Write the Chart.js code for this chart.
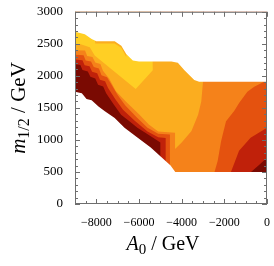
<!DOCTYPE html>
<html>
<head>
<meta charset="utf-8">
<script src="https://cdn.jsdelivr.net/npm/chart.js@4/dist/chart.umd.min.js"></script>
<style>
  html, body { margin: 0; padding: 0; background: #fff; }
</style>
</head>
<body>
<canvas id="chart" width="274" height="266"></canvas>
<script>
// tick labels
const xTicks = [-8000, -6000, -4000, -2000, 0];
const yTicks = [0, 500, 1000, 1500, 2000, 2500, 3000];

// edges of the region that was computed (A0, m1/2)
const topEdge = [[-9000,2688],[-8540,2651],[-8220,2574],[-8000,2540],[-7140,2540],[-6830,2472],[-6600,2343],[-6290,2240],[-6000,2226],[-4480,2226],[-4180,2205],[-3870,2088],[-3410,1934],[-3180,1908],[0,1910]];
const lowEdge = [[-9000,1754],[-8680,1728],[-8460,1640],[-8220,1620],[-7900,1520],[-7600,1446],[-7140,1343],[-6680,1189],[-6060,1035],[-5450,882],[-4520,600],[-4300,500],[0,500]];

// contour levels, darkest first; each polygon is the area at or above that level
const levelColors = ["#7a0a02", "#c0210a", "#e4520f", "#f5821a", "#fbad1f", "#ffcf24"];
const level0 = [[-9000,0],[0,0],[0,3000],[-9000,3000]];
const level1 = [[-9000,3000],[0,3000],[0,720],[-400,600],[-750,500],[-750,0],[-5000,0],[-5000,960],[-5465,1060],[-6075,1189],[-6450,1290],[-6840,1395],[-7200,1560],[-7540,1730],[-7680,1835],[-7920,1860],[-8050,1960],[-8280,1985],[-8400,2070],[-8650,2090],[-8750,2170],[-9000,2180]];
const level2 = [[-9000,3000],[0,3000],[0,1190],[-770,1035],[-1310,830],[-1690,500],[-1690,0],[-4750,0],[-4750,1030],[-5100,1040],[-5600,1130],[-6200,1300],[-6750,1470],[-7100,1630],[-7450,1810],[-7590,1915],[-7830,1940],[-7960,2040],[-8200,2065],[-8320,2150],[-8550,2165],[-8650,2245],[-9000,2255]];
const level3 = [[-9000,3000],[0,3000],[0,1930],[-600,1830],[-920,1754],[-1300,1580],[-1540,1450],[-1920,1292],[-2150,985],[-2310,677],[-2460,500],[-2460,0],[-4550,0],[-4550,1085],[-5100,1095],[-5600,1190],[-6100,1350],[-6650,1540],[-7000,1700],[-7300,1870],[-7500,1980],[-7760,2010],[-7880,2115],[-8120,2140],[-8250,2225],[-8500,2240],[-8600,2320],[-9000,2330]];
const level4 = [[-9000,2400],[-8530,2395],[-8430,2310],[-8180,2295],[-8050,2210],[-7810,2185],[-7690,2080],[-7400,1960],[-7080,1760],[-6620,1600],[-6000,1400],[-5540,1241],[-5100,1130],[-4310,1112],[-4310,857],[-4000,958],[-3540,1138],[-3230,1395],[-3080,1600],[-3000,1910],[-3000,3000],[-9000,3000]];
const level5 = [[-9000,3000],[-8100,3000],[-8050,2505],[-7140,2505],[-6830,2440],[-6600,2300],[-6450,3000],[-5400,3000],[-5354,2088],[-6154,1795],[-8077,2318],[-8308,2446],[-8769,2497],[-9000,2497]];
const levels = [level0, level1, level2, level3, level4, level5];

const toPts = arr => arr.map(p => ({ x: p[0], y: p[1] }));

const datasets = levels.map((poly, i) => ({
  data: toPts(poly),
  backgroundColor: levelColors[i],
  order: 100 - i
}));
// white out what lies outside the computed region
datasets.push({ data: toPts(topEdge.concat([[0,3000],[-9000,3000]])), backgroundColor: "#fff", order: 2 });
datasets.push({ data: toPts(lowEdge.concat([[0,0],[-9000,0]])), backgroundColor: "#fff", order: 1 });
datasets.forEach(d => {
  d.showLine = true;
  d.fill = "shape";
  d.borderColor = "rgba(0,0,0,0)";
  d.borderWidth = 0;
  d.pointRadius = 0;
  d.tension = 0;
});

const serif = "'Liberation Serif', 'DejaVu Serif', serif";

// frame with inward ticks on all four sides
const framePlugin = {
  id: "frame",
  afterDatasetsDraw(chart) {
    const { ctx, chartArea: a, scales: { x, y } } = chart;
    ctx.save();
    ctx.strokeStyle = "#6e6e6e";
    ctx.lineWidth = 1;
    ctx.strokeRect(a.left + 0.5, a.top + 0.5, a.width - 1, a.height - 1);
    ctx.beginPath();
    for (let v = -9000; v <= 0; v += 500) {
      const px = Math.round(x.getPixelForValue(v)) + 0.5;
      const len = xTicks.includes(v) ? 5 : 3;
      ctx.moveTo(px, a.bottom); ctx.lineTo(px, a.bottom - len);
      ctx.moveTo(px, a.top); ctx.lineTo(px, a.top + len);
    }
    for (let v = 0; v <= 3000; v += 100) {
      const py = Math.round(y.getPixelForValue(v)) + 0.5;
      const len = yTicks.includes(v) ? 5 : 3;
      ctx.moveTo(a.left, py); ctx.lineTo(a.left + len, py);
      ctx.moveTo(a.right, py); ctx.lineTo(a.right - len, py);
    }
    ctx.stroke();
    ctx.restore();
  }
};

// axis titles with subscripts
const titlePlugin = {
  id: "titles",
  afterDraw(chart) {
    const { ctx } = chart;
    ctx.save();
    ctx.fillStyle = "#000";
    ctx.textBaseline = "alphabetic";
    const drawParts = (parts, x0, y0) => {
      let w = 0;
      parts.forEach(p => { ctx.font = p.f; w += ctx.measureText(p.t).width; });
      let cx = x0 - w / 2;
      parts.forEach(p => { ctx.font = p.f; ctx.fillText(p.t, cx, y0 + p.dy); cx += ctx.measureText(p.t).width; });
    };
    // x title: A0 / GeV
    drawParts([
      { t: "A", f: "italic 20px " + serif, dy: 0 },
      { t: "0", f: "15px " + serif, dy: 4 },
      { t: " / GeV", f: "20px " + serif, dy: 0 }
    ], 163, 250);
    // y title: m1/2 / GeV
    ctx.translate(25, 108);
    ctx.rotate(-Math.PI / 2);
    drawParts([
      { t: "m", f: "italic 21px " + serif, dy: 0 },
      { t: "1/2", f: "16px " + serif, dy: 4 },
      { t: " / GeV", f: "21px " + serif, dy: 0 }
    ], 0, 0);
    ctx.restore();
  }
};

new Chart(document.getElementById("chart"), {
  type: "scatter",
  data: { datasets: datasets },
  options: {
    responsive: false,
    animation: false,
    events: [],
    layout: { padding: { left: 0, top: 9, right: 3, bottom: 0 } },
    plugins: { legend: { display: false }, tooltip: { enabled: false } },
    scales: {
      x: {
        type: "linear",
        min: -9000,
        max: 0,
        afterBuildTicks: s => { s.ticks = xTicks.map(v => ({ value: v })); },
        afterFit: s => { s.height = 62; },
        grid: { display: false },
        border: { display: false },
        ticks: {
          padding: 4,
          color: "#000",
          font: { family: serif, size: 12 },
          maxRotation: 0,
          callback: v => (v < 0 ? "\u2212" + Math.abs(v) : String(v))
        }
      },
      y: {
        type: "linear",
        min: 0,
        max: 3000,
        afterBuildTicks: s => { s.ticks = yTicks.map(v => ({ value: v })); },
        afterFit: s => { s.width = 75; },
        grid: { display: false },
        border: { display: false },
        ticks: {
          padding: 4,
          color: "#000",
          font: { family: serif, size: 13 },
          callback: v => String(v)
        }
      }
    }
  },
  plugins: [framePlugin, titlePlugin]
});
</script>
</body>
</html>
